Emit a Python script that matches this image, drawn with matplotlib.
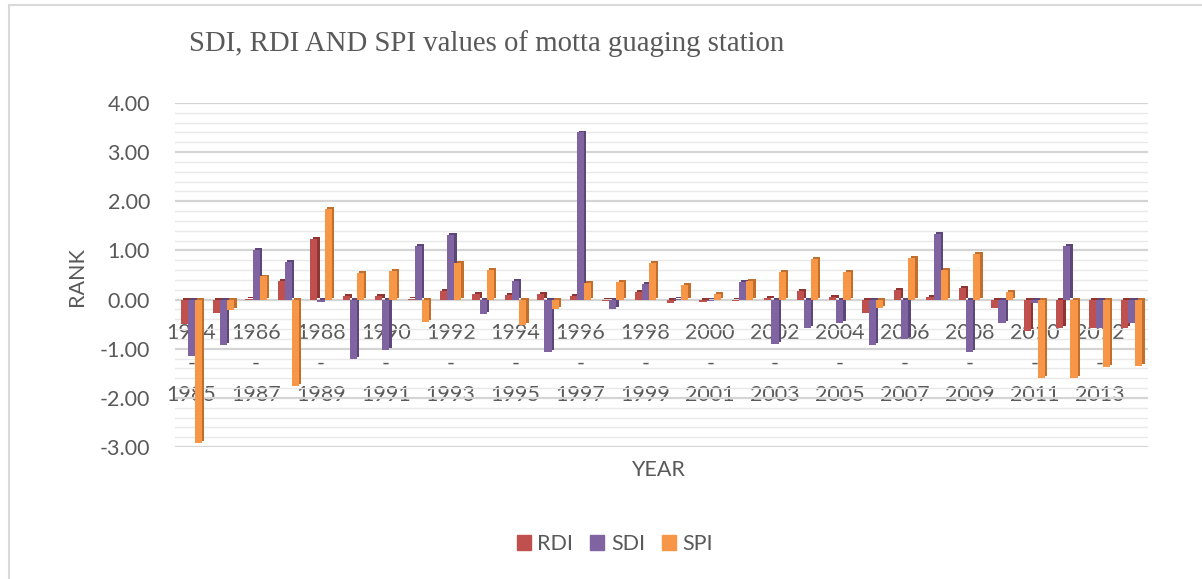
import matplotlib
matplotlib.use("Agg")
import matplotlib.pyplot as plt
from matplotlib.patches import Rectangle
import numpy as np

start_years = list(range(1984, 2014))
categories = [f"{y}-{y+1}" for y in start_years]

rdi = [-0.49, -0.27, 0.01, 0.38, 1.24, 0.08, 0.07, 0.01, 0.18, 0.12,
       0.10, 0.12, 0.07, -0.03, 0.15, -0.06, -0.05, -0.02, 0.03, 0.17,
       0.05, -0.27, 0.20, 0.06, 0.24, -0.18, -0.63, -0.58, -0.58, -0.58]
sdi = [-1.14, -0.93, 1.00, 0.76, -0.05, -1.20, -1.03, 1.09, 1.32, -0.30,
       0.37, -1.06, 3.40, -0.19, 0.31, 0.02, -0.03, 0.36, -0.90, -0.57,
       -0.47, -0.92, -0.80, 1.33, -1.06, -0.48, -0.06, 1.10, -0.58, -0.48]
spi = [-2.91, -0.22, 0.47, -1.76, 1.85, 0.55, 0.59, -0.45, 0.74, 0.61,
       -0.52, -0.20, 0.33, 0.36, 0.75, 0.30, 0.11, 0.37, 0.56, 0.82,
       0.57, -0.17, 0.85, 0.61, 0.93, 0.15, -1.59, -1.59, -1.38, -1.35]

series = [("RDI", rdi, "#C0504D", "#8E3532"),
          ("SDI", sdi, "#8064A2", "#5C4778"),
          ("SPI", spi, "#F79646", "#C26E2C")]

TXT = "#595959"
FS = 15.5

fig = plt.figure(figsize=(12.02, 5.79), dpi=100)
fig.patch.set_facecolor("white")
fig.patches.append(Rectangle((9/1202, -0.1), 1.2, 1 - 5/579 + 0.1,
                             transform=fig.transFigure, fill=False,
                             edgecolor="#D9D9D9", linewidth=1.5))

ax = fig.add_axes([175/1202, 1 - 447/579, (1148-175)/1202, (447-103)/579])
ax.set_facecolor("white")

x = np.arange(len(categories))
w = 0.22
offs = [-0.22, 0.0, 0.22]
dx, dy = 0.07, 0.04
for (name, vals, col, dark), o in zip(series, offs):
    vals = np.array(vals)
    ax.bar(x + o + dx, vals, w, bottom=dy, color=dark, zorder=2, linewidth=0)
    ax.bar(x + o, vals, w, color=col, zorder=3, linewidth=0, label=name)

ax.set_xlim(-0.5, len(categories) - 0.5)
ax.set_ylim(-3, 4)
yt = np.arange(-3, 4.01, 1)
ax.set_yticks(yt)
ax.set_yticklabels([f"{v:.2f}" for v in yt])
ax.set_yticks(np.arange(-3, 4.01, 0.2), minor=True)
ax.grid(axis="y", which="major", color="#D4D4D4", linewidth=1.6, zorder=0)
ax.grid(axis="y", which="minor", color="#E8E8E8", linewidth=1.0, zorder=0)
ax.set_axisbelow(True)

for s in ["top", "right", "left"]:
    ax.spines[s].set_visible(False)
ax.spines["bottom"].set_position(("data", 0))
ax.spines["bottom"].set_visible(False)

ticks = x[::2]
ax.set_xticks(ticks)
ax.set_xticklabels([categories[i].replace("-", "\n-\n") for i in ticks],
                   family="Lato", fontsize=FS, color=TXT,
                   linespacing=1.68)
ax.tick_params(axis="x", length=0, pad=17)
ax.tick_params(axis="y", which="both", length=0, pad=18,
               labelsize=FS, labelcolor=TXT)
for lab in ax.get_yticklabels():
    lab.set_family("Lato")

fig.text(77/1202, 1 - 277/579, "RANK", rotation=90, ha="center", va="center",
         family="Lato", fontsize=FS, color=TXT)
fig.text(658/1202, 1 - 470/579, "YEAR", ha="center", va="center",
         family="Lato", fontsize=FS, color=TXT)
fig.text(189/1202, 1 - 44/579, "SDI, RDI AND SPI values of motta guaging station",
         ha="left", va="center", family="Liberation Serif", fontsize=20.7,
         color=TXT)

handles = [Rectangle((0, 0), 1, 1, color=c) for _, _, c, _ in series]
leg = fig.legend(handles, [n for n, _, _, _ in series], loc="center",
                 bbox_to_anchor=(615/1202, 1 - 544/579), ncol=3, frameon=False,
                 prop={"family": "Lato", "size": FS}, handlelength=0.65,
                 handleheight=0.65, handletextpad=0.3, columnspacing=0.8)
for t in leg.get_texts():
    t.set_color(TXT)

fig.savefig("out.png", dpi=100, facecolor="white")
